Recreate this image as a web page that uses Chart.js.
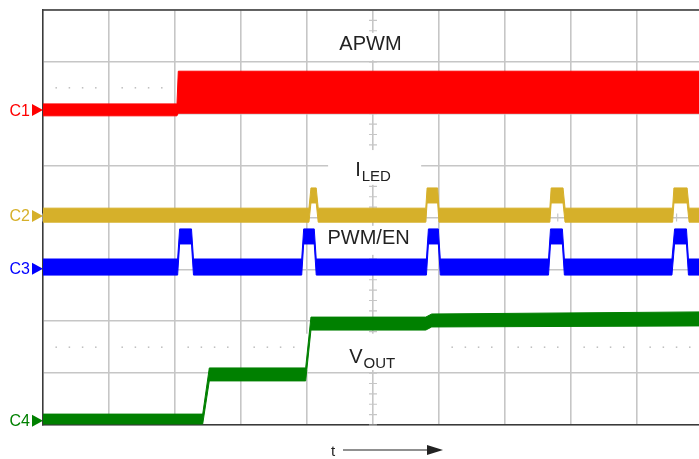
<!DOCTYPE html>
<html>
<head>
<meta charset="utf-8">
<script src="https://cdn.jsdelivr.net/npm/chart.js@4.4.1/dist/chart.umd.min.js"></script>
<style>
  html, body { margin: 0; padding: 0; background: #fff; }
  canvas { display: block; }
</style>
</head>
<body>
<canvas id="scope" width="699" height="459"></canvas>
<script>
  // Time in screen divisions, levels in divisions up from the bottom of the screen
  const c1Time   = [0, 2.03, 2.05, 9.94];
  const c1Top    = [6.19, 6.19, 6.82, 6.82];
  const c1Bottom = [5.96, 5.96, 6.01, 6.01];

  const c2Time   = [0, 4.03, 4.06, 4.14, 4.17, 5.80, 5.82, 5.98, 6.00, 7.68, 7.70, 7.88, 7.91, 9.54, 9.56, 9.76, 9.79, 9.94];
  const c2Top    = [4.18, 4.18, 4.57, 4.57, 4.18, 4.18, 4.57, 4.57, 4.18, 4.18, 4.57, 4.57, 4.18, 4.18, 4.57, 4.57, 4.18, 4.18];
  const c2Bottom = [3.91, 3.91, 4.28, 4.28, 3.91, 3.91, 4.28, 4.28, 3.91, 3.91, 4.28, 4.28, 3.91, 3.91, 4.28, 4.28, 3.91, 3.91];

  const c3Time   = [0, 2.04, 2.07, 2.25, 2.28, 3.92, 3.95, 4.11, 4.14, 5.81, 5.84, 5.99, 6.02, 7.66, 7.69, 7.87, 7.90, 9.53, 9.57, 9.75, 9.78, 9.94];
  const c3Top    = [3.20, 3.20, 3.78, 3.78, 3.20, 3.20, 3.78, 3.78, 3.20, 3.20, 3.78, 3.78, 3.20, 3.20, 3.78, 3.78, 3.20, 3.20, 3.78, 3.78, 3.20, 3.20];
  const c3Bottom = [2.89, 2.89, 3.49, 3.49, 2.89, 2.89, 3.49, 3.49, 2.89, 2.89, 3.49, 3.49, 2.89, 2.89, 3.49, 3.49, 2.89, 2.89, 3.49, 3.49, 2.89, 2.89];

  const c4Time   = [0, 2.42, 2.52, 3.98, 4.06, 5.80, 5.89, 9.94];
  const c4Top    = [0.21, 0.21, 1.10, 1.10, 2.08, 2.08, 2.14, 2.18];
  const c4Bottom = [0.02, 0.02, 0.85, 0.85, 1.83, 1.83, 1.89, 1.91];

  // channel ground markers on the left edge
  const channelNames   = ['C1', 'C2', 'C3', 'C4'];
  const channelLevels  = [6.07, 4.03, 3.01, 0.08];
  const channelColors  = ['#ff0000', '#d6b02a', '#0000ff', '#008000'];

  const xGrid = [0, 1, 2, 3, 4, 5, 6, 7, 8, 9];

  const pts = (xs, ys) => xs.map((x, i) => ({ x: x, y: ys[i] }));

  function band(time, top, bottom, color) {
    return [
      { data: pts(time, top), borderColor: color, borderWidth: 1, pointRadius: 0, fill: false, tension: 0 },
      { data: pts(time, bottom), borderColor: color, borderWidth: 1, pointRadius: 0, backgroundColor: color, fill: '-1', tension: 0 }
    ];
  }

  // signal labels, in division coordinates (box: x0, y0, x1, y1)
  const labels = [
    { text: 'APWM', sub: '', x: 4.49, y: 7.22, box: [4.03, 7.56, 5.97, 7.03] },
    { text: 'I', sub: 'LED', x: 4.73, y: 4.80, box: [4.32, 5.30, 5.73, 4.63] },
    { text: 'PWM/EN', sub: '', x: 4.31, y: 3.49, box: [4.27, 3.84, 5.73, 3.28] },
    { text: 'V', sub: 'OUT', x: 4.64, y: 1.195, box: [3.89, 1.76, 5.83, 1.06] }
  ];

  const FONT = '"Liberation Sans", Arial, sans-serif';
  const GRID = '#c6c6c6';

  const scopeDecor = {
    id: 'scopeDecor',
    beforeDatasetsDraw(chart) {
      const { ctx, chartArea: a, scales: { x, y } } = chart;
      ctx.save();
      // dotted half-division rows
      ctx.fillStyle = '#bdbdbd';
      [6.5, 1.5].forEach(v => {
        const py = y.getPixelForValue(v);
        for (let d = 0; d < 10; d++) {
          for (let k = 1; k < 5; k++) {
            const px = x.getPixelForValue(d + k / 5);
            if (px < a.right) ctx.fillRect(px - 0.75, py - 0.75, 1.5, 1.5);
          }
        }
      });
      // minor ticks along the centre axes
      ctx.strokeStyle = GRID;
      ctx.lineWidth = 1.2;
      const cx = x.getPixelForValue(5), cy = y.getPixelForValue(4);
      ctx.beginPath();
      for (let i = 0; i <= 40; i++) {
        const py = y.getPixelForValue(i / 5);
        ctx.moveTo(cx - 4, py); ctx.lineTo(cx + 4, py);
      }
      for (let i = 0; i <= 50; i++) {
        const px = x.getPixelForValue(i / 5);
        if (px > a.right) break;
        ctx.moveTo(px, cy - 4); ctx.lineTo(px, cy + 4);
      }
      ctx.stroke();
      // labels on white boxes
      labels.forEach(l => {
        const x0 = x.getPixelForValue(l.box[0]), y0 = y.getPixelForValue(l.box[1]);
        const x1 = x.getPixelForValue(l.box[2]), y1 = y.getPixelForValue(l.box[3]);
        ctx.fillStyle = '#ffffff';
        ctx.fillRect(x0, y0, x1 - x0, y1 - y0);
        const px = x.getPixelForValue(l.x), py = y.getPixelForValue(l.y);
        ctx.fillStyle = '#222222';
        ctx.textBaseline = 'alphabetic';
        ctx.textAlign = 'left';
        ctx.font = '20px ' + FONT;
        ctx.fillText(l.text, px, py);
        if (l.sub) {
          const w = ctx.measureText(l.text).width;
          ctx.font = '15px ' + FONT;
          ctx.fillText(l.sub, px + w + 1, py + 5);
        }
      });
      ctx.restore();
    },
    afterDraw(chart) {
      const { ctx, chartArea: a, scales: { y } } = chart;
      ctx.save();
      // top border
      ctx.strokeStyle = '#3a3a3a';
      ctx.lineWidth = 1.5;
      ctx.beginPath();
      ctx.moveTo(a.left, a.top); ctx.lineTo(a.right, a.top);
      ctx.stroke();
      // channel markers
      ctx.font = '16px ' + FONT;
      ctx.textAlign = 'right';
      ctx.textBaseline = 'middle';
      channelNames.forEach((n, i) => {
        const py = y.getPixelForValue(channelLevels[i]);
        ctx.fillStyle = channelColors[i];
        ctx.fillText(n, a.left - 13, py + 1);
        ctx.beginPath();
        ctx.moveTo(a.left - 11, py - 6);
        ctx.lineTo(a.left, py);
        ctx.lineTo(a.left - 11, py + 6);
        ctx.closePath();
        ctx.fill();
      });
      // time arrow
      ctx.fillStyle = '#222222';
      ctx.strokeStyle = '#222222';
      ctx.font = '15px ' + FONT;
      ctx.textAlign = 'left';
      ctx.textBaseline = 'alphabetic';
      ctx.fillText('t', 331, 456);
      ctx.lineWidth = 1.2;
      ctx.beginPath();
      ctx.moveTo(343, 450); ctx.lineTo(430, 450);
      ctx.stroke();
      ctx.beginPath();
      ctx.moveTo(427, 445); ctx.lineTo(443, 450); ctx.lineTo(427, 455);
      ctx.closePath();
      ctx.fill();
      ctx.restore();
    }
  };

  const zeroSize = { x: s => { s.height = 0; }, y: s => { s.width = 0; } };

  new Chart(document.getElementById('scope').getContext('2d'), {
    type: 'line',
    data: {
      datasets: [
        ...band(c1Time, c1Top, c1Bottom, channelColors[0]),
        ...band(c2Time, c2Top, c2Bottom, channelColors[1]),
        ...band(c3Time, c3Top, c3Bottom, channelColors[2]),
        ...band(c4Time, c4Top, c4Bottom, channelColors[3])
      ]
    },
    options: {
      responsive: false,
      animation: false,
      devicePixelRatio: 1,
      layout: { padding: { left: 43, top: 10, right: 0, bottom: 34 } },
      plugins: { legend: { display: false }, tooltip: { enabled: false } },
      scales: {
        x: {
          type: 'linear',
          min: 0,
          max: 9.94,
          afterFit: zeroSize.x,
          afterBuildTicks: s => { s.ticks = xGrid.map(v => ({ value: v })); },
          ticks: { display: false, includeBounds: false },
          grid: { color: GRID, lineWidth: 1.6, drawTicks: false },
          border: { display: true, color: '#3a3a3a', width: 1.5 }
        },
        y: {
          min: 0,
          max: 8,
          afterFit: zeroSize.y,
          ticks: { display: false, stepSize: 1 },
          grid: { color: GRID, lineWidth: 1.6, drawTicks: false },
          border: { display: true, color: '#3a3a3a', width: 1.5 }
        }
      }
    },
    plugins: [scopeDecor]
  });
</script>
</body>
</html>
